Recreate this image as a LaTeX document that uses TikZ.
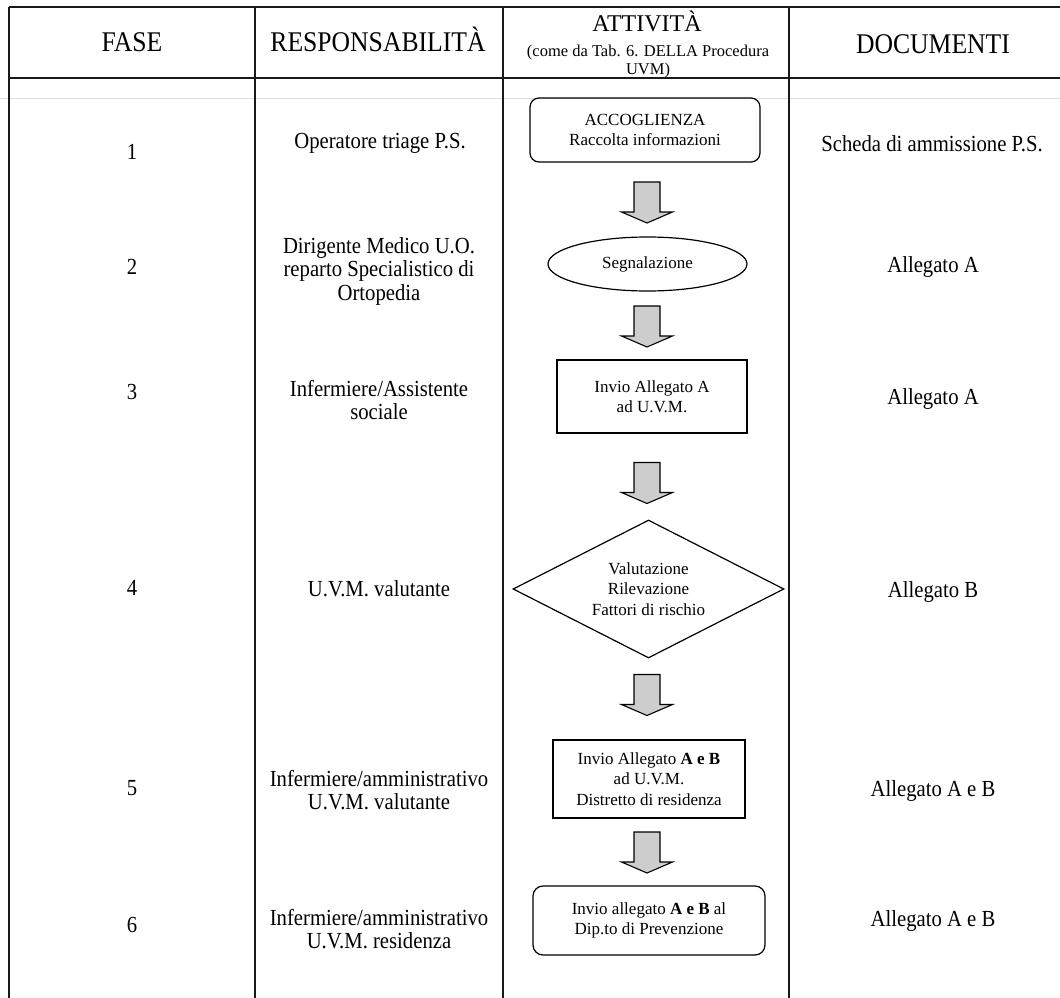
\documentclass[tikz,border=0pt]{standalone}
\usepackage{fontspec}
\setmainfont{Liberation Serif}
\newfontfamily\condfont{Liberation Serif}[FakeStretch=0.9]
\usetikzlibrary{shapes.geometric}
\definecolor{arrowfill}{RGB}{205,205,205}
\definecolor{scanline}{RGB}{222,222,222}
\begin{document}
\begin{tikzpicture}[x=1pt,y=-1pt,
  rule/.style={line width=1.3pt, draw=black!90},
  hdr/.style={font=\condfont\fontsize{28.5}{30}\selectfont, anchor=base, inner sep=0},
  cell/.style={font=\condfont\fontsize{23}{23.5}\selectfont, align=center, inner sep=0},
  flow/.style={draw, line width=1.2pt, font=\fontsize{17}{20.5}\selectfont, align=center, inner sep=0},
  roundbox/.style={flow, rectangle, rounded corners=9pt},
  plainbox/.style={flow, rectangle},
  blockarr/.pic={\draw[line width=1.1pt, fill=arrowfill, line join=miter]
     (-13,-20.5) -- (-13,9.5) -- (-25.5,9.5) -- (0,20.5) -- (25.5,9.5) -- (13,9.5) -- (13,-20.5) -- cycle;}
]
\useasboundingbox (0,0) rectangle (1060,998);

% faint scan line
\draw[scanline, line width=0.8pt] (0,98) -- (1060,98);

% table rules
\draw[rule] (9,7) -- (1060,7);
\draw[rule] (9,78) -- (1060,78);
\draw[rule] (9,7) -- (9,998);
\draw[rule] (255,7) -- (255,998);
\draw[rule] (503,7) -- (503,998);
\draw[rule] (789,7) -- (789,998);

% header
\node[hdr] (hfase) at (132,52) {FASE};
\node[hdr] (hresp) at (378,52) {RESPONSABILITÀ};
\node[font=\fontsize{24}{26}\selectfont, anchor=base, inner sep=0] (hatt) at (647,32) {ATTIVITÀ};
\node[font=\fontsize{16.5}{18}\selectfont, align=center, inner sep=0] (hattsub) at (648,61.5) {(come da Tab. 6. DELLA Procedura\\UVM)};
\node[hdr] (hdoc) at (933,53) {DOCUMENTI};

% phase column
\node[cell] (f1) at (132,152) {1};
\node[cell] (f2) at (132,267) {2};
\node[cell] (f3) at (132,392) {3};
\node[cell] (f4) at (132,588) {4};
\node[cell] (f5) at (132,788) {5};
\node[cell] (f6) at (132,925) {6};

% responsibility column
\node[cell] (r1) at (380,143) {Operatore triage P.S.};
\node[cell] (r2) at (379,271) {Dirigente Medico U.O.\\reparto Specialistico di\\Ortopedia};
\node[cell] (r3) at (379,400) {Infermiere/Assistente\\sociale};
\node[cell] (r4) at (379,589) {U.V.M. valutante};
\node[cell] (r5) at (379,790) {Infermiere/amministrativo\\U.V.M. valutante};
\node[cell] (r6) at (379,929) {Infermiere/amministrativo\\U.V.M. residenza};

% documents column
\node[cell] (d1) at (932,144) {Scheda di ammissione P.S.};
\node[cell] (d2) at (933,267) {Allegato A};
\node[cell] (d3) at (933,399) {Allegato A};
\node[cell] (d4) at (933,592) {Allegato B};
\node[cell] (d5) at (933,791) {Allegato A e B};
\node[cell] (d6) at (933,921) {Allegato A e B};

% activity flow
\node[roundbox, minimum width=230pt, minimum height=64pt] (a1) at (645,130) {ACCOGLIENZA\\Raccolta informazioni};
\node[flow, ellipse, minimum width=199pt, minimum height=54pt] (a2) at (647.5,264) {Segnalazione};
\node[plainbox, minimum width=190pt, minimum height=73pt] (a3) at (652,396.5) {Invio Allegato A\\ad U.V.M.};
\node[flow, diamond, shape aspect=1.96, minimum width=271pt, minimum height=138pt] (a4) at (648.5,589) {Valutazione\\Rilevazione\\Fattori di rischio};
\node[plainbox, minimum width=192pt, minimum height=78pt] (a5) at (649,779) {Invio Allegato \textbf{A e B}\\ad U.V.M.\\Distretto di residenza};
\node[roundbox, minimum width=232pt, minimum height=69pt, rounded corners=10pt] (a6) at (649,920.5) {Invio allegato \textbf{A e B} al\\Dip.to di Prevenzione};

% block arrows between the activities
\pic (ar1) at (647,202.5) {blockarr};
\pic (ar2) at (647,326.5) {blockarr};
\pic (ar3) at (647,483) {blockarr};
\pic (ar4) at (647,695) {blockarr};
\pic (ar5) at (647,852.5) {blockarr};
\end{tikzpicture}
\end{document}
